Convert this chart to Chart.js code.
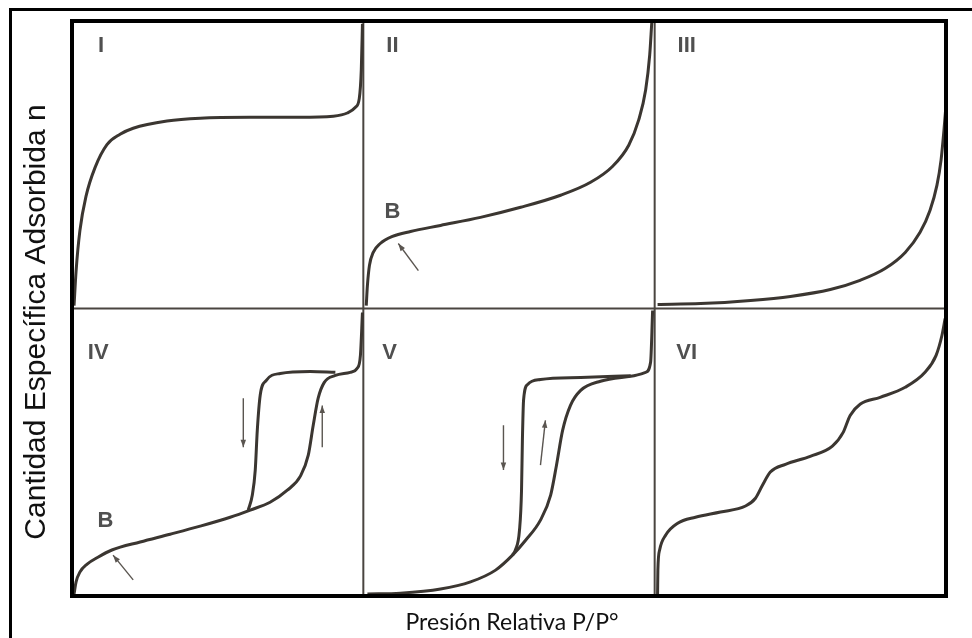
<!DOCTYPE html>
<html>
<head>
<meta charset="utf-8">
<script src="https://cdn.jsdelivr.net/npm/chart.js@4.4.1/dist/chart.umd.min.js"></script>
<style>
  html, body { margin: 0; padding: 0; background: #fff; }
  #wrap { position: relative; width: 972px; height: 638px; }
</style>
</head>
<body>
<div id="wrap"><canvas id="chart"></canvas></div>
<script>
// isotherm curves, each panel in its own 0..1 box (x = P/P°, y = n)
const typeI = [[0.007,0.01],[0.014,0.13],[0.027,0.27],[0.048,0.39],[0.079,0.49],[0.12,0.57],[0.165,0.606],
  [0.21,0.627],[0.326,0.652],[0.44,0.662],[0.61,0.665],[0.78,0.665],[0.897,0.669],[0.945,0.68],
  [0.973,0.70],[0.986,0.73],[0.993,0.83],[0.997,0.99]];
const typeII = [[0.010,0.010],[0.014,0.080],[0.021,0.150],[0.034,0.195],[0.058,0.226],[0.100,0.251],
  [0.162,0.268],[0.265,0.289],[0.402,0.317],[0.540,0.352],[0.677,0.394],[0.780,0.439],[0.856,0.495],
  [0.911,0.568],[0.945,0.655],[0.969,0.760],[0.983,0.882],[0.990,0.993]];
const typeIII = [[0.01,0.014],[0.158,0.017],[0.329,0.028],[0.466,0.042],[0.603,0.066],[0.705,0.098],
  [0.791,0.139],[0.860,0.195],[0.911,0.265],[0.945,0.341],[0.969,0.429],[0.983,0.516],[0.993,0.620],[1.0,0.707]];
const typeIVads = [[0.007,0.007],[0.014,0.049],[0.027,0.083],[0.052,0.111],[0.089,0.135],[0.137,0.160],
  [0.234,0.188],[0.337,0.215],[0.440,0.243],[0.543,0.274],[0.612,0.299],[0.680,0.326],[0.739,0.368],
  [0.784,0.417],[0.811,0.490],[0.828,0.594],[0.845,0.688],[0.866,0.743],[0.904,0.767],[0.955,0.778],
  [0.979,0.792],[0.990,0.837],[0.997,0.986]];
const typeIVdes = [[0.605,0.299],[0.619,0.351],[0.629,0.438],[0.636,0.576],[0.646,0.698],[0.667,0.750],
  [0.715,0.774],[0.818,0.781],[0.904,0.778]];
const typeVads = [[0.014,0.007],[0.127,0.010],[0.265,0.024],[0.368,0.049],[0.454,0.090],[0.512,0.142],
  [0.557,0.194],[0.608,0.264],[0.643,0.351],[0.663,0.455],[0.684,0.576],[0.711,0.663],[0.746,0.715],
  [0.814,0.747],[0.918,0.764],[0.969,0.778],[0.986,0.813],[0.993,0.993]];
const typeVdes = [[0.512,0.142],[0.522,0.160],[0.536,0.229],[0.543,0.368],[0.546,0.542],[0.550,0.681],
  [0.564,0.736],[0.608,0.753],[0.746,0.760],[0.918,0.766]];
const typeVI = [[0.010,0.007],[0.011,0.090],[0.017,0.160],[0.038,0.212],[0.079,0.253],[0.140,0.274],
  [0.226,0.292],[0.312,0.313],[0.346,0.340],[0.370,0.385],[0.397,0.431],[0.449,0.458],[0.534,0.486],
  [0.610,0.521],[0.647,0.569],[0.671,0.628],[0.705,0.667],[0.774,0.691],[0.860,0.726],[0.928,0.778],
  [0.966,0.837],[0.986,0.906],[0.997,0.965]];

// arrows: [tail, head]
const arrowIIB = [[0.189,0.132],[0.120,0.226]];
const arrowIVB = [[0.210,0.056],[0.141,0.142]];
const arrowIVdown = [[0.588,0.688],[0.588,0.517]];
const arrowIVup = [[0.859,0.517],[0.859,0.663]];
const arrowVdown = [[0.481,0.594],[0.481,0.438]];
const arrowVup = [[0.608,0.455],[0.625,0.611]];

// panel labels: [text, col, row, x, y] with x/y inside the panel box
const panelLabels = [
  ['I', 0, 1, 0.10, 0.915], ['II', 1, 1, 0.10, 0.915], ['III', 2, 1, 0.11, 0.915],
  ['IV', 0, 0, 0.09, 0.845], ['V', 1, 0, 0.09, 0.845], ['VI', 2, 0, 0.11, 0.845],
  ['B', 1, 1, 0.10, 0.335], ['B', 0, 0, 0.115, 0.26]
];

const curveColor = '#3b3631';
const arrowColor = '#5a5550';

function shift(points, col, row) {
  return points.map(p => ({ x: p[0] + col, y: p[1] + row }));
}
function curve(points, col, row) {
  return {
    data: shift(points, col, row),
    borderColor: curveColor,
    borderWidth: 3,
    pointRadius: 0,
    showLine: true,
    cubicInterpolationMode: 'monotone',
    fill: false
  };
}
function arrow(points, col, row) {
  return {
    data: shift(points, col, row),
    borderColor: arrowColor,
    borderWidth: 1.4,
    pointRadius: 0,
    showLine: true,
    tension: 0,
    arrow: true
  };
}

// frame, dividers, arrowheads and text
const decor = {
  id: 'decor',
  beforeDatasetsDraw(chart) {
    const { ctx, scales: { x, y } } = chart;
    ctx.save();
    ctx.strokeStyle = '#4a4540';
    ctx.lineWidth = 2;
    ctx.beginPath();
    [1, 2].forEach(v => {
      ctx.moveTo(x.getPixelForValue(v), y.getPixelForValue(0));
      ctx.lineTo(x.getPixelForValue(v), y.getPixelForValue(2));
    });
    ctx.moveTo(x.getPixelForValue(0), y.getPixelForValue(1));
    ctx.lineTo(x.getPixelForValue(3), y.getPixelForValue(1));
    ctx.stroke();

    ctx.fillStyle = '#505050';
    ctx.font = 'bold 22px "Liberation Sans", Arial, sans-serif';
    ctx.textAlign = 'center';
    ctx.textBaseline = 'middle';
    panelLabels.forEach(l => {
      ctx.fillText(l[0], x.getPixelForValue(l[1] + l[3]), y.getPixelForValue(l[2] + l[4]));
    });
    ctx.restore();
  },
  afterDatasetsDraw(chart) {
    const { ctx, chartArea: a } = chart;
    ctx.save();
    // arrowheads
    chart.data.datasets.forEach((ds, i) => {
      if (!ds.arrow) return;
      const pts = chart.getDatasetMeta(i).data;
      const p0 = pts[0], p1 = pts[1];
      const ang = Math.atan2(p1.y - p0.y, p1.x - p0.x);
      ctx.fillStyle = arrowColor;
      ctx.beginPath();
      ctx.moveTo(p1.x, p1.y);
      ctx.lineTo(p1.x - 8 * Math.cos(ang - 0.35), p1.y - 8 * Math.sin(ang - 0.35));
      ctx.lineTo(p1.x - 8 * Math.cos(ang + 0.35), p1.y - 8 * Math.sin(ang + 0.35));
      ctx.closePath();
      ctx.fill();
    });
    // inner frame
    ctx.strokeStyle = '#000';
    ctx.lineWidth = 4;
    ctx.strokeRect(a.left, a.top, a.right - a.left, a.bottom - a.top);
    // outer border
    ctx.lineWidth = 3;
    ctx.strokeRect(10.5, 9.5, 980, 660);

    // axis titles
    ctx.fillStyle = '#111';
    ctx.textAlign = 'center';
    ctx.textBaseline = 'alphabetic';
    ctx.font = '23px Lato, "Open Sans", sans-serif';
    ctx.fillText('Presión Relativa P/P°', 512, 630);
    ctx.translate(45, 322);
    ctx.rotate(-Math.PI / 2);
    ctx.font = '30px "Liberation Sans", Arial, sans-serif';
    ctx.fillText('Cantidad Específica Adsorbida n', 0, 0);
    ctx.restore();
  }
};

const datasets = [
  curve(typeI, 0, 1), curve(typeII, 1, 1), curve(typeIII, 2, 1),
  curve(typeIVads, 0, 0), curve(typeIVdes, 0, 0),
  curve(typeVads, 1, 0), curve(typeVdes, 1, 0),
  curve(typeVI, 2, 0),
  arrow(arrowIIB, 1, 1), arrow(arrowIVB, 0, 0),
  arrow(arrowIVdown, 0, 0), arrow(arrowIVup, 0, 0),
  arrow(arrowVdown, 1, 0), arrow(arrowVup, 1, 0)
];

const canvas = document.getElementById('chart');
canvas.width = 972;
canvas.height = 638;

new Chart(canvas, {
  type: 'scatter',
  data: { datasets: datasets },
  options: {
    responsive: false,
    animation: false,
    layout: { padding: { left: 72, right: 26, top: 21, bottom: 42 } },
    scales: {
      x: { type: 'linear', min: 0, max: 3, display: false },
      y: { type: 'linear', min: 0, max: 2, display: false }
    },
    plugins: { legend: { display: false }, tooltip: { enabled: false } }
  },
  plugins: [decor]
});
</script>
</body>
</html>
